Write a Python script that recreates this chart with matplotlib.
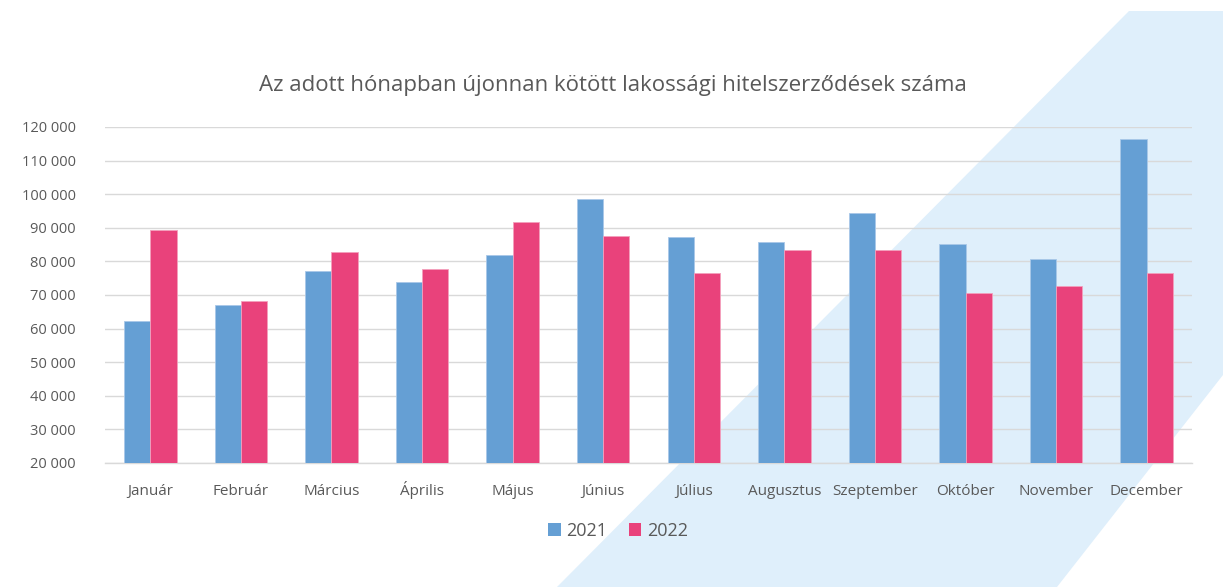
import matplotlib
matplotlib.use("Agg")
import matplotlib.pyplot as plt
from matplotlib.patches import Polygon, Patch
import numpy as np

months = ["Január", "Február", "Március", "Április", "Május", "Június",
          "Július", "Augusztus", "Szeptember", "Október", "November", "December"]
v2021 = [62300, 67000, 77000, 74000, 81800, 98700, 87300, 85800, 94300, 85300, 80700, 116500]
v2022 = [89200, 68100, 82800, 77600, 91800, 87600, 76500, 83300, 83300, 70600, 72700, 76500]
series_labels = ["2021", "2022"]
yticks = [20000, 30000, 40000, 50000, 60000, 70000, 80000, 90000, 100000, 110000, 120000]
title = "Az adott hónapban újonnan kötött lakossági hitelszerződések száma"

plt.rcParams['font.family'] = ['Open Sans', 'DejaVu Sans']
W, H = 1229, 587
fig = plt.figure(figsize=(W / 100, H / 100), dpi=100)
fig.patch.set_facecolor("white")

# decorative background band (figure pixel coords)
band = [(1129, 11), (1223, 11), (1223, 375), (1057, 587), (557, 587)]
poly = Polygon([(x / W, 1 - y / H) for x, y in band], closed=True,
               transform=fig.transFigure, facecolor="#dfeffb", edgecolor="none", zorder=0)
fig.patches.append(poly)

ax = fig.add_axes([105 / W, 1 - 463 / H, (1192 - 105) / W, (463 - 127) / H])
ax.set_facecolor("none")
ax.set_zorder(1)

x = np.arange(len(months))
bw = 0.29
c1, c2 = "#659fd4", "#e9427b"
ax.bar(x - bw / 2, v2021, bw, color=c1, edgecolor="#a9c8e8", linewidth=0.6, zorder=3)
ax.bar(x + bw / 2, v2022, bw, color=c2, edgecolor="#f3a0bd", linewidth=0.6, zorder=3)

ax.set_xlim(-0.5, len(months) - 0.5)
ax.set_ylim(20000, 120000)
ax.set_yticks(yticks)
ax.set_yticklabels([f"{v:,}".replace(",", " ") for v in yticks])
ax.set_xticks(x)
ax.set_xticklabels(months)
ax.grid(axis="y", color="#d9d9d9", linewidth=1.0, zorder=0)
for s in ["top", "right", "left"]:
    ax.spines[s].set_visible(False)
ax.spines["bottom"].set_color("#d9d9d9")
ax.spines["bottom"].set_linewidth(1.0)
ax.tick_params(axis="both", length=0, colors="#595959")
ax.tick_params(axis="x", pad=23, labelsize=11)
ax.tick_params(axis="y", pad=21, labelsize=10.5)
for lbl in ax.get_xticklabels():
    lbl.set_va("baseline")

fig.text(613 / W, 1 - 85 / H, title, ha="center", va="center", fontsize=16, color="#595959")

handles = [Patch(facecolor=c1, edgecolor="none"), Patch(facecolor=c2, edgecolor="none")]
leg = fig.legend(handles, series_labels, loc="center", bbox_to_anchor=(618 / W, 1 - 531 / H),
                 ncol=2, frameon=False, fontsize=13, handlelength=0.7, handleheight=0.7,
                 handletextpad=0.3, columnspacing=1.2, labelcolor="#595959")

fig.savefig("out.png", dpi=100, facecolor="white")
